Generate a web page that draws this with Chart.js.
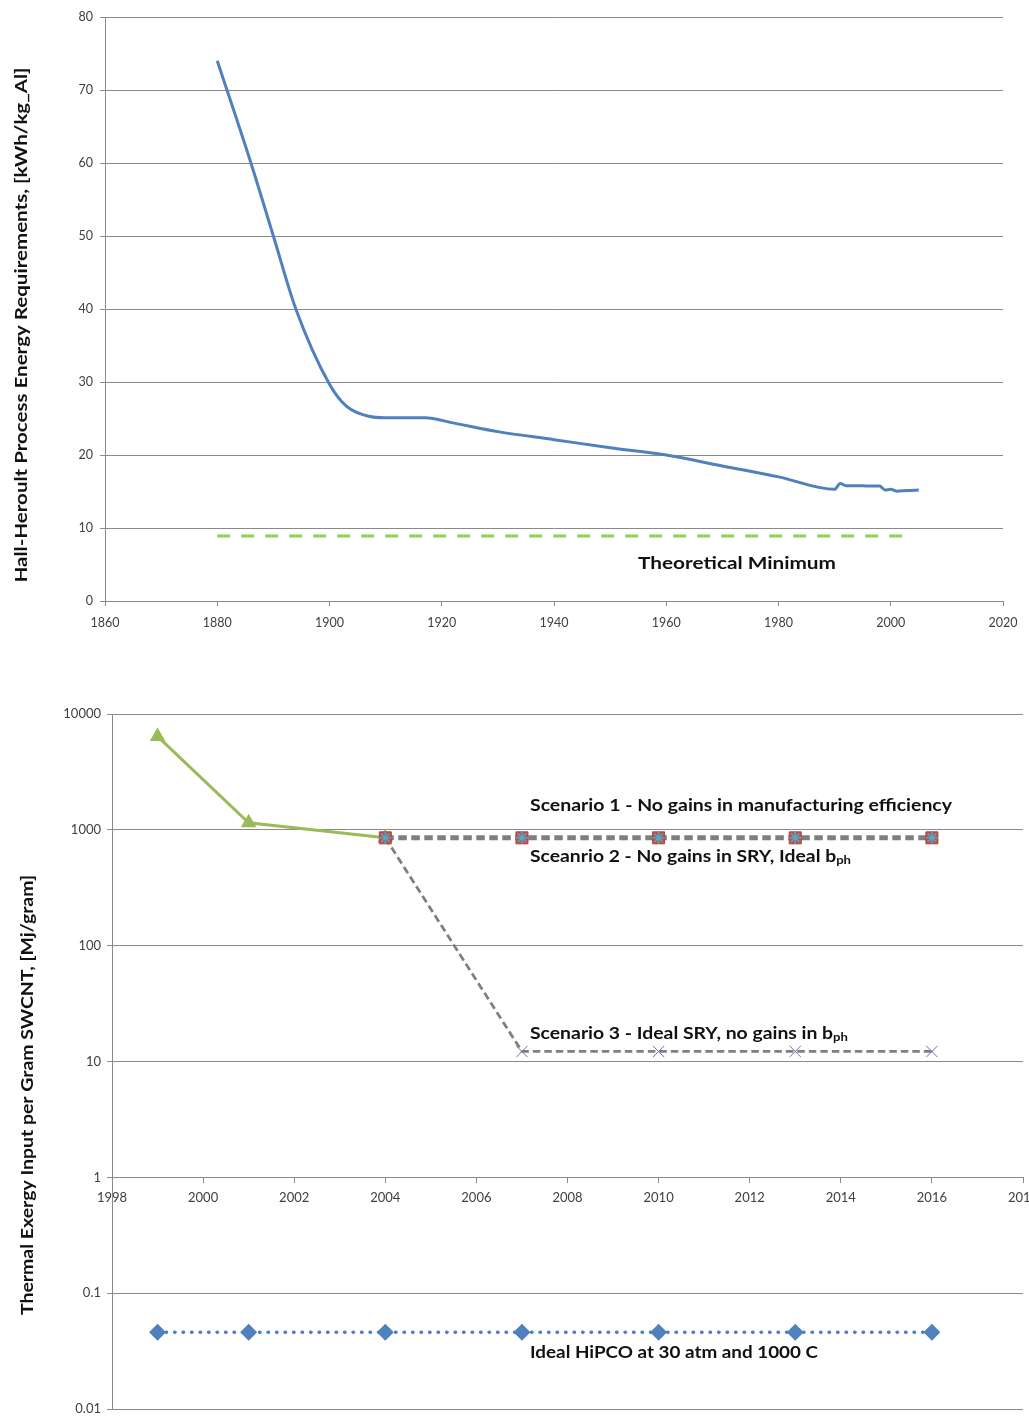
<!DOCTYPE html>
<html>
<head>
<meta charset="utf-8">
<script src="https://cdn.jsdelivr.net/npm/chart.js@4/dist/chart.umd.min.js"></script>
<style>
  html, body { margin: 0; padding: 0; background: #fff; overflow: hidden; }
  #wrap { position: relative; width: 1029px; height: 1427px; overflow: hidden; }
  canvas { position: absolute; left: 0; }
  #topChart { top: 0; }
  #bottomChart { top: 660px; }
</style>
</head>
<body>
<div id="wrap">
  <canvas id="topChart" width="1029" height="640"></canvas>
  <canvas id="bottomChart" width="1050" height="767"></canvas>
</div>
<script>
// ── Data: Hall-Heroult process ───────────────────────────
const hhYears  = [1880, 1886, 1890, 1894, 1900, 1903, 1907, 1910, 1917, 1922, 1930, 1940, 1950, 1960, 1970, 1980, 1990, 1991, 1992, 1994, 1996, 1998, 1999, 2000, 2001, 2003, 2005];
const hhValues = [74, 60, 50, 40, 29.7, 26.7, 25.3, 25.1, 25.1, 24.4, 23.2, 22.1, 21.0, 20.0, 18.5, 17.0, 15.3, 16.1, 15.8, 15.8, 15.75, 15.75, 15.2, 15.3, 15.05, 15.15, 15.2];
const minYears  = [1880, 2003.5];
const minValues = [8.9, 8.9];
const topXTicks = [1860, 1880, 1900, 1920, 1940, 1960, 1980, 2000, 2020];

// ── Data: SWCNT exergy ───────────────────────────────────
const histYears   = [1999, 2001, 2004];
const histValues  = [6400, 1150, 853];
const scenYears   = [2004, 2007, 2010, 2013, 2016];
const scen1Values = [853, 853, 853, 853, 853];
const scen2Values = [853, 853, 853, 853, 853];
const scen3Values = [853, 12.2, 12.2, 12.2, 12.2];
const hipcoYears  = [1999, 2001, 2004, 2007, 2010, 2013, 2016];
const hipcoValues = [0.046, 0.046, 0.046, 0.046, 0.046, 0.046, 0.046];
const logTicks    = [0.01, 0.1, 1, 10, 100, 1000, 10000];

const GRID = '#8a8a8a';
const TICK_COLOR = '#404040';
const pts = (xs, ys) => xs.map((x, i) => ({ x, y: ys[i] }));

// ── Text annotations (drawn on canvas, squeezed to width) ─
function drawRich(ctx, it) {
  const size = it.size || 16;
  const fontFor = s => `bold ${s.sub ? size * 0.68 : size}px Lato, "Open Sans", sans-serif`;
  ctx.save();
  ctx.translate(it.x, it.y);
  if (it.rot) ctx.rotate(-Math.PI / 2);
  let total = 0;
  const widths = it.segs.map(s => { ctx.font = fontFor(s); const w = ctx.measureText(s.t).width; total += w; return w; });
  ctx.scale(it.w / total, 1);
  ctx.fillStyle = '#111';
  ctx.textBaseline = 'middle';
  ctx.textAlign = 'left';
  let cx = it.center ? -total / 2 : 0;
  it.segs.forEach((s, i) => {
    ctx.font = fontFor(s);
    ctx.fillText(s.t, cx, s.sub ? size * 0.22 : 0);
    cx += widths[i];
  });
  ctx.restore();
}
function labelPlugin(items) {
  return { id: 'annot', afterDraw(chart) { items.forEach(it => drawRich(chart.ctx, it)); } };
}

const tickFont = size => ({ family: 'Lato, "Open Sans", sans-serif', size });

// ── Top chart ────────────────────────────────────────────
new Chart(document.getElementById('topChart'), {
  type: 'line',
  data: {
    datasets: [
      { label: 'Hall-Heroult', data: pts(hhYears, hhValues), borderColor: '#4F81BD', borderWidth: 3,
        pointRadius: 0, cubicInterpolationMode: 'monotone', fill: false },
      { label: 'Theoretical Minimum', data: pts(minYears, minValues), borderColor: '#92D050', borderWidth: 3,
        borderDash: [13, 11], pointRadius: 0, fill: false },
    ],
  },
  options: {
    responsive: false, animation: false, devicePixelRatio: 1,
    layout: { padding: { top: 17, right: 26, bottom: 0, left: 0 } },
    plugins: { legend: { display: false }, tooltip: { enabled: false } },
    scales: {
      x: {
        type: 'linear', min: 1860, max: 2020,
        afterBuildTicks: s => { s.ticks = topXTicks.map(v => ({ value: v })); },
        afterFit: s => { s.height = 39; },
        ticks: { color: TICK_COLOR, font: tickFont(12.5), padding: 9, maxRotation: 0, callback: v => String(v) },
        grid: { drawOnChartArea: false, color: GRID, tickLength: 5 },
        border: { color: GRID },
      },
      y: {
        min: 0, max: 80,
        afterFit: s => { s.width = 105; },
        ticks: { stepSize: 10, color: TICK_COLOR, font: tickFont(12.5), padding: 7 },
        grid: { color: GRID, tickLength: 5 },
        border: { color: GRID },
      },
    },
  },
  plugins: [labelPlugin([
    { x: 22, y: 325, w: 515, rot: true, center: true, size: 17, segs: [{ t: 'Hall-Heroult Process Energy Requirements, [kWh/kg_Al]' }] },
    { x: 638, y: 564, w: 198, size: 17, segs: [{ t: 'Theoretical Minimum' }] },
  ])],
});

// ── Bottom chart ─────────────────────────────────────────
new Chart(document.getElementById('bottomChart'), {
  type: 'line',
  data: {
    datasets: [
      { label: 'Scenario 2', data: pts(scenYears, scen2Values), showLine: false,
        pointStyle: 'star', pointRadius: 6, pointBorderColor: '#4BACC6', pointBorderWidth: 1.5, pointBackgroundColor: '#4BACC6' },
      { label: 'Scenario 1', data: pts(scenYears, scen1Values), borderColor: '#7F7F7F', borderWidth: 5, borderDash: [8.5, 4.5],
        pointStyle: 'rect', pointRadius: 8.5, pointBackgroundColor: '#C0504D', pointBorderColor: '#B04541', pointBorderWidth: 1 },
      { label: 'Scenario 3', data: pts(scenYears, scen3Values), borderColor: '#7F7F7F', borderWidth: 2.75, borderDash: [7.5, 4],
        pointStyle: 'crossRot', pointRadius: c => (c.dataIndex === 0 ? 0 : 8), pointBorderColor: '#8064A2', pointBorderWidth: 1 },
      { label: 'Historical', data: pts(histYears, histValues), borderColor: '#9BBB59', borderWidth: 3,
        pointStyle: 'triangle', pointRadius: 6, pointBackgroundColor: '#9BBB59', pointBorderColor: '#9BBB59' },
      { label: 'Ideal HiPCO', data: pts(hipcoYears, hipcoValues), borderColor: '#4F81BD', borderWidth: 3.5,
        borderDash: [0.5, 8], borderCapStyle: 'round',
        pointStyle: 'rectRot', pointRadius: 6, pointBackgroundColor: '#4F81BD', pointBorderColor: '#4F81BD' },
    ],
  },
  options: {
    responsive: false, animation: false, devicePixelRatio: 1,
    layout: { padding: { top: 54, right: 27, bottom: 18, left: 0 } },
    plugins: { legend: { display: false }, tooltip: { enabled: false } },
    scales: {
      x: {
        type: 'linear', min: 1998, max: 2018, position: { y: 1 },
        ticks: { stepSize: 2, color: TICK_COLOR, font: tickFont(13), padding: 8, maxRotation: 0, callback: v => String(v) },
        grid: { drawOnChartArea: false, color: GRID, tickLength: 5 },
        border: { color: GRID },
      },
      y: {
        type: 'logarithmic', min: 0.01, max: 10000,
        afterBuildTicks: s => { s.ticks = logTicks.map(v => ({ value: v })); },
        afterFit: s => { s.width = 112; },
        ticks: { color: TICK_COLOR, font: tickFont(13), padding: 6, callback: v => String(v) },
        grid: { color: GRID, tickLength: 5 },
        border: { color: GRID },
      },
    },
  },
  plugins: [labelPlugin([
    { x: 28, y: 435, w: 440, rot: true, center: true, size: 17, segs: [{ t: 'Thermal Exergy Input per Gram SWCNT, [Mj/gram]' }] },
    { x: 530, y: 146, w: 422, size: 17, segs: [{ t: 'Scenario 1 - No gains in manufacturing efficiency' }] },
    { x: 530, y: 197, w: 321, size: 17, segs: [{ t: 'Sceanrio 2 - No gains in SRY, Ideal b' }, { t: 'ph', sub: true }] },
    { x: 530, y: 374, w: 318, size: 17, segs: [{ t: 'Scenario 3 - Ideal SRY, no gains in b' }, { t: 'ph', sub: true }] },
    { x: 530, y: 693, w: 288, size: 17, segs: [{ t: 'Ideal HiPCO at 30 atm and 1000 C' }] },
  ])],
});
</script>
</body>
</html>
